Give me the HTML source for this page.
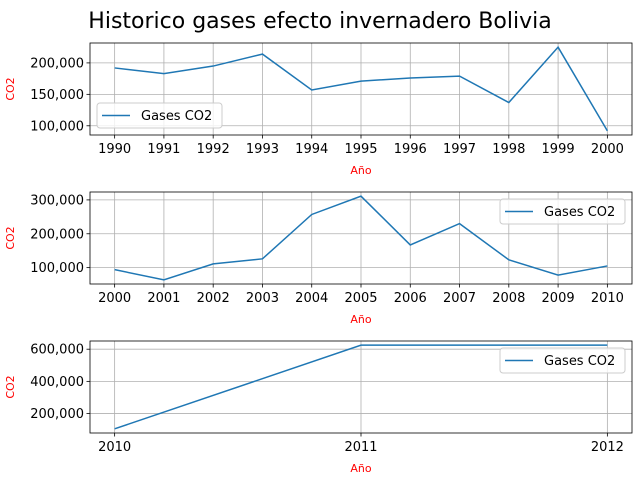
<!DOCTYPE html>
<html><head><meta charset="utf-8"><style>
body{margin:0;background:#fff}
svg{display:block;font-family:"DejaVu Sans","Liberation Sans",sans-serif}
</style></head><body>
<svg id="chart" width="640" height="480">
<text x="320" y="28" font-size="22" text-anchor="middle">Historico gases efecto invernadero Bolivia</text>
</svg>
<script>
const years1 = [1990,1991,1992,1993,1994,1995,1996,1997,1998,1999,2000];
const co2_1 = [192000,183000,195000,214000,157000,171000,176000,179000,137000,225000,92000];
const ticks1 = [100000,150000,200000];
const years2 = [2000,2001,2002,2003,2004,2005,2006,2007,2008,2009,2010];
const co2_2 = [94000,64000,111000,126000,257000,311000,167000,230000,123000,78000,105000];
const ticks2 = [100000,200000,300000];
const years3 = [2010,2011,2012];
const co2_3 = [105000,625000,625000];
const ticks3 = [200000,400000,600000];

const svg=document.getElementById('chart');
const NS='http://www.w3.org/2000/svg';
function mk(tag,attrs,parent){const e=document.createElementNS(NS,tag);for(const k in attrs)e.setAttribute(k,attrs[k]);(parent||svg).appendChild(e);return e;}
const fmt=v=>v.toLocaleString('en-US');

function panel(idx,xs,ys,yt,top,legend){
  const L=90,R=632,T=top,B=top+92;
  const g=mk('g',{});
  
  
  const xmin=xs[0],xmax=xs[xs.length-1];
  const xpad=(xmax-xmin)*0.05;
  const sx=v=>L+(v-(xmin-xpad))/((xmax+xpad)-(xmin-xpad))*(R-L);
  let ymin=Math.min(...ys),ymax=Math.max(...ys);const yp=(ymax-ymin)*0.05;ymin-=yp;ymax+=yp;
  const sy=v=>B-(v-ymin)/(ymax-ymin)*(B-T);
  xs.forEach(x=>{
    const X=sx(x);
    const gl=mk('line',{x1:X,x2:X,y1:T,y2:B,stroke:'#b0b0b0','stroke-width':0.8},g);
    
    
    mk('line',{x1:X,x2:X,y1:B,y2:B+3.5,stroke:'#000','stroke-width':0.8},g);
    const t=mk('text',{x:X,y:B+18,'font-size':13,'text-anchor':'middle'},g);t.textContent=x;
    
    
  });
  yt.forEach(v=>{
    const Y=sy(v);
    const gl=mk('line',{x1:L,x2:R,y1:Y,y2:Y,stroke:'#b0b0b0','stroke-width':0.8},g);
    
    
    mk('line',{x1:L-3.5,x2:L,y1:Y,y2:Y,stroke:'#000','stroke-width':0.8},g);
    const t=mk('text',{x:L-6,y:Y+4.5,'font-size':13,'text-anchor':'end'},g);t.textContent=fmt(v);
    
    
  });
  const line=mk('polyline',{points:xs.map((x,i)=>sx(x)+','+sy(ys[i])).join(' '),fill:'none',stroke:'#1f77b4','stroke-width':1.5},g);
  
  
  const fr=mk('rect',{x:L,y:T,width:R-L,height:B-T,fill:'none',stroke:'#000','stroke-width':0.8},g);
  
  
  const xl=mk('text',{x:(L+R)/2,y:B+39,'font-size':11,fill:'red','text-anchor':'middle'},g);xl.textContent='Año';
  
  
  const cy=(T+B)/2;
  const yl=mk('text',{x:14,y:cy,'font-size':11,fill:'red','text-anchor':'middle',transform:'rotate(-90 14 '+cy+')'},g);yl.textContent='CO2';
  
  
  const lg=mk('g',{},g);
  
  
  mk('rect',{x:legend[0],y:legend[1],width:125,height:25,rx:3,fill:'#fff','fill-opacity':0.8,stroke:'#ccc'},lg);
  mk('line',{x1:legend[0]+5,x2:legend[0]+33,y1:legend[1]+12.5,y2:legend[1]+12.5,stroke:'#1f77b4','stroke-width':1.5},lg);
  const lt=mk('text',{x:legend[0]+44,y:legend[1]+17,'font-size':13},lg);lt.textContent='Gases CO2';
  
  
}
panel(1,years1,co2_1,ticks1,43,[97,103]);
panel(2,years2,co2_2,ticks2,192,[500,199]);
panel(3,years3,co2_3,ticks3,341,[500,348]);
</script>
</body></html>
